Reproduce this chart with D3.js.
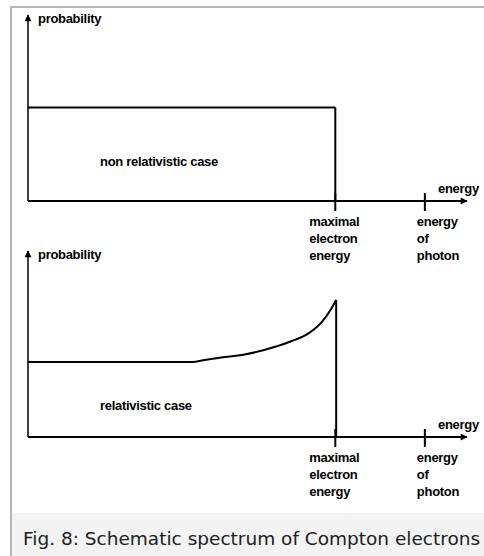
<!DOCTYPE html>
<html lang="en">
<head>
    <meta charset="UTF-8">
    <title>Schematic spectrum of Compton electrons</title>
    <script src="https://cdnjs.cloudflare.com/ajax/libs/d3/7.8.5/d3.min.js"></script>
    <style>
        body {
            margin: 0;
            background: #fff;
        }
        .lbl {
            font-family: "Liberation Sans", Arial, sans-serif;
            font-size: 13px;
            font-weight: bold;
            letter-spacing: -0.3px;
            fill: #000;
        }
        .caption {
            font-family: "DejaVu Sans", sans-serif;
            font-size: 18.5px;
            fill: #202122;
        }
    </style>
</head>
<body>
    <div id="fig"></div>

    <script>
        // energy ticks on the x axis (fraction of axis length)
        const tickNames = [["maximal", "electron", "energy"], ["energy", "of", "photon"]];
        const tickEnergy = [0.70, 0.904];

        // non relativistic case: flat up to the maximal electron energy
        const flatEnergy = [0, 0.70];
        const flatProb = [0.503, 0.503];

        // relativistic case
        const relEnergy = [0, 0.374, 0.403, 0.449, 0.4875, 0.563, 0.601, 0.639, 0.670, 0.689, 0.702];
        const relProb = [0.403, 0.403, 0.414, 0.430, 0.441, 0.485, 0.516, 0.557, 0.620, 0.683, 0.737];

        const panels = [
            {name: "non relativistic case", energy: flatEnergy, prob: flatProb, axisY: 201, caseX: 100, caseY: 166},
            {name: "relativistic case", energy: relEnergy, prob: relProb, axisY: 437, caseX: 100, caseY: 410}
        ];

        const W = 484, H = 556;
        const svg = d3.select("#fig").append("svg")
            .attr("width", W)
            .attr("height", H);

        svg.append("defs").append("marker")
            .attr("id", "arrow")
            .attr("viewBox", "0 0 10 10")
            .attr("refX", 9).attr("refY", 5)
            .attr("markerWidth", 10).attr("markerHeight", 7)
            .attr("markerUnits", "userSpaceOnUse")
            .attr("orient", "auto")
            .append("path")
            .attr("d", "M0,0L10,5L0,10z")
            .attr("fill", "#000");

        // thumbnail frame + caption
        svg.append("rect").attr("x", 12).attr("y", 513).attr("width", W - 12).attr("height", H - 513).attr("fill", "#f3f3f3");
        svg.append("rect").attr("x", 10).attr("y", 6).attr("width", W - 10).attr("height", 2).attr("fill", "#b5b5b5");
        svg.append("rect").attr("x", 10).attr("y", 6).attr("width", 2).attr("height", H - 6).attr("fill", "#b5b5b5");
        svg.append("text").attr("class", "caption")
            .attr("x", 23).attr("y", 545)
            .text("Fig. 8: Schematic spectrum of Compton electrons");

        const x = d3.scaleLinear().domain([0, 1]).range([28, 467]);

        panels.forEach(p => {
            const y = d3.scaleLinear().domain([0, 1]).range([p.axisY, p.axisY - 186]);
            const g = svg.append("g");

            // y axis with arrow
            g.append("line")
                .attr("x1", x(0)).attr("x2", x(0))
                .attr("y1", y(0)).attr("y2", y(1))
                .attr("stroke", "#000").attr("stroke-width", 1.5)
                .attr("marker-end", "url(#arrow)");
            g.append("text").attr("class", "lbl")
                .attr("x", x(0) + 10).attr("y", y(1) + 8)
                .text("probability");

            // x axis with arrow
            g.append("line")
                .attr("x1", x(0)).attr("x2", x(1))
                .attr("y1", y(0)).attr("y2", y(0))
                .attr("stroke", "#000").attr("stroke-width", 2)
                .attr("marker-end", "url(#arrow)");
            g.append("text").attr("class", "lbl")
                .attr("x", x(1) - 29).attr("y", y(0) - 8)
                .text("energy");

            // ticks and their labels
            tickEnergy.forEach((e, i) => {
                g.append("line")
                    .attr("x1", x(e)).attr("x2", x(e))
                    .attr("y1", y(0) - 8).attr("y2", y(0) + 10)
                    .attr("stroke", "#000").attr("stroke-width", 2);
                const tx = x(e) - (i === 0 ? 26 : 8);
                const t = g.append("text").attr("class", "lbl")
                    .attr("x", tx).attr("y", y(0) + 25);
                tickNames[i].forEach((s, j) => {
                    t.append("tspan").attr("x", tx)
                        .attr("dy", j === 0 ? 0 : 17).text(s);
                });
            });

            // spectrum: curve from the axis up, then drop at the maximal energy
            const pts = p.energy.map((e, i) => [e, p.prob[i]]);
            const line = d3.line()
                .x(d => x(d[0]))
                .y(d => y(d[1]))
                .curve(d3.curveMonotoneX);
            g.append("path")
                .attr("d", line(pts))
                .attr("fill", "none")
                .attr("stroke", "#000").attr("stroke-width", 2);
            const last = pts[pts.length - 1];
            g.append("line")
                .attr("x1", x(last[0])).attr("x2", x(last[0]))
                .attr("y1", y(last[1])).attr("y2", y(0))
                .attr("stroke", "#000").attr("stroke-width", 2);

            g.append("text").attr("class", "lbl")
                .attr("x", p.caseX).attr("y", p.caseY)
                .text(p.name);
        });
    </script>
</body>
</html>
